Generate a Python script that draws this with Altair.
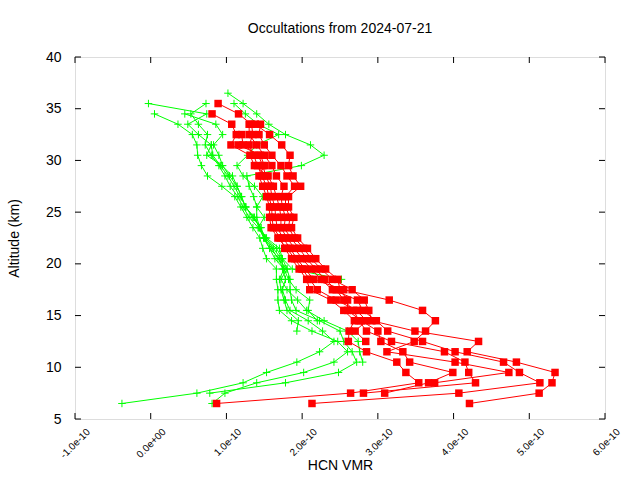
import altair as alt
import pandas as pd

TITLE = "Occultations from 2024-07-21"
X_TITLE = "HCN VMR"
Y_TITLE = "Altitude (km)"

ALTITUDES = [6.5, 7.5, 8.5, 9.5, 10.5, 11.5, 12.5, 13.5, 14.5, 15.5, 16.5, 17.5,
             18.5, 19.5, 20.5, 21.5, 22.5, 23.5, 24.5, 25.5, 26.5, 27.5, 28.5,
             29.5, 30.5, 31.5, 32.5, 33.5, 34.5, 35.5, 36.5]

X_TICKS = [-1e-10, 0.0, 1e-10, 2e-10, 3e-10, 4e-10, 5e-10, 6e-10]
X_TICK_LABELS = ["-1.0e-10", "0.0e+00", "1.0e-10", "2.0e-10", "3.0e-10",
                 "4.0e-10", "5.0e-10", "6.0e-10"]
Y_TICKS = [5, 10, 15, 20, 25, 30, 35, 40]

# HCN VMR values in units of 1e-10, from the lowest altitude upward
GREEN_1 = [-0.38, 0.61, 1.22, 1.53, 1.93, 2.23, 2.42, 2.27, 2.08, 1.84, 1.78, 1.74,
           1.78, 1.74, 1.70, 1.57, 1.49, 1.44, 1.37, 1.25, 1.20, 1.14, 1.08, 0.94,
           0.74, 0.80, 0.63, 0.49, 0.74, -0.03]
GREEN_2 = [0.81, 0.98, 1.40, 2.02, 2.42, 2.60, 2.47, 2.13, 1.86, 1.70, 1.68, 1.68,
           1.66, 1.66, 1.53, 1.48, 1.44, 1.35, 1.27, 1.19, 1.11, 0.94, 0.75, 0.67,
           0.62, 0.61, 0.55, 0.36, 0.05]
GREEN_3 = [0.78, 1.78, 2.48, 2.72, 2.66, 2.55, 2.50, 2.23, 1.92, 1.86, 1.84, 1.84,
           1.80, 1.74, 1.70, 1.53, 1.44, 1.40, 1.40, 1.36, 1.30, 1.27, 1.99, 2.29,
           2.11, 1.78, 1.56, 1.40, 1.22, 1.02]
GREEN_4 = [2.80, 2.76, 2.74, 2.60, 2.29, 2.06, 1.94, 1.80, 1.72, 1.80, 1.68, 1.60,
           1.50, 1.42, 1.30, 1.22, 1.15, 1.05, 0.98, 0.90, 0.80, 0.72, 0.75, 0.63,
           0.53, 0.73]
GREEN_5 = [1.93, 1.95, 1.80, 1.76, 1.72, 1.70, 1.76, 1.72, 1.62, 1.52, 1.42, 1.50,
           1.40, 1.48, 1.37, 1.22, 1.14, 1.28, 1.40, 1.69, 1.42, 1.25, 1.10]
GREEN_6 = [2.52, 1.87, 1.74, 1.66, 1.51, 1.44, 1.36, 1.25, 1.20, 1.14, 1.04, 0.95,
           0.90, 0.83, 0.95, 0.86, 0.45]
GREEN_7 = [2.20, 2.08, 2.10, 1.92, 1.82, 1.76, 1.64, 1.57, 1.50, 1.46, 1.34, 1.26,
           1.18, 1.10, 1.02, 0.92, 0.82, 0.80]

RED_1 = [0.87, 2.64, 3.54, 3.37, 3.25, 2.85, 2.61, 2.62, 2.69, 2.55, 2.38, 2.10,
         2.06, 1.96, 1.86, 1.77, 1.71, 1.62, 1.60, 1.60, 1.56, 1.53, 1.47, 1.41,
         1.36, 1.30, 1.35, 1.33, 1.16, 0.89]
RED_2 = [2.13, 4.07, 5.14, 4.87, 4.66, 4.02, 3.59, 3.13, 2.98, 2.80, 2.73, 2.40,
         2.25, 2.12, 2.00, 1.90, 1.80, 1.72, 1.72, 1.70, 1.66, 1.62, 1.55, 1.37,
         1.31, 1.06, 1.13, 1.07, 0.81]
RED_3 = [4.21, 5.13, 5.30, 5.34, 4.83, 4.18, 4.33, 3.49, 2.92, 2.88, 2.82, 2.66,
         2.40, 2.25, 2.12, 2.02, 1.90, 1.82, 1.84, 1.78, 1.78, 1.90, 1.80, 1.72,
         1.60, 1.50, 1.43, 1.45]
RED_4 = [2.81, 4.29, 4.20, 4.15, 3.88, 3.18, 2.85, 2.75, 2.68, 2.55, 2.45, 2.30,
         2.18, 2.06, 1.96, 1.85, 1.76, 1.78, 1.74, 1.72, 1.76, 1.66, 1.60, 1.50,
         1.40, 1.30, 1.30]
RED_5 = [3.09, 3.67, 3.99, 3.42, 3.33, 3.04, 3.00, 2.78, 2.60, 2.60, 2.50, 2.47,
         2.31, 2.18, 2.07, 1.94, 1.86, 1.89, 1.82, 1.82, 1.98, 1.88, 1.82, 1.84,
         1.73, 1.57, 1.38]
RED_6 = [3.75, 4.73, 4.02, 3.12, 3.48, 3.63, 3.76, 3.59, 3.15, 2.55, 2.15, 2.04,
         1.93, 1.84, 1.75, 1.67, 1.65, 1.64, 1.60, 1.58, 1.52, 1.48, 1.42, 1.22,
         1.20]
RED_7 = [2.84, 2.70, 2.85, 2.72, 2.45, 2.20, 2.10, 2.00, 1.90, 1.80, 1.68, 1.59,
         1.57, 1.57, 1.53, 1.48, 1.43, 1.50, 1.45, 1.16]

# (name, group, lowest altitude, values)
PROFILES = [
    ("g1", "green", 6.5, GREEN_1), ("g2", "green", 6.5, GREEN_2),
    ("g3", "green", 7.5, GREEN_3), ("g4", "green", 10.5, GREEN_4),
    ("g5", "green", 13.5, GREEN_5), ("g6", "green", 18.5, GREEN_6),
    ("g7", "green", 14.5, GREEN_7),
    ("r1", "red", 6.5, RED_1), ("r2", "red", 6.5, RED_2),
    ("r3", "red", 6.5, RED_3), ("r4", "red", 7.5, RED_4),
    ("r5", "red", 7.5, RED_5), ("r6", "red", 8.5, RED_6),
    ("r7", "red", 12.5, RED_7),
]

rows = []
for name, grp, start, vals in PROFILES:
    i0 = ALTITUDES.index(start)
    for k, v in enumerate(vals):
        rows.append({"profile": name, "group": grp,
                     "alt": ALTITUDES[i0 + k], "vmr": v * 1e-10})
df = pd.DataFrame(rows)
green = df[df.group == "green"]
red = df[df.group == "red"]

W, H = 530, 362
FONT = "Liberation Sans"
xdom = [X_TICKS[0], X_TICKS[-1]]
ydom = [Y_TICKS[0], Y_TICKS[-1]]

label_arr = "[" + ",".join("'" + s + "'" for s in X_TICK_LABELS) + "]"
xaxis = alt.Axis(values=X_TICKS, labelExpr=label_arr + "[round(datum.value*1e10)+1]",
                 labelAngle=-45, labelAlign="right", labelBaseline="middle",
                 labelFontSize=10, labelPadding=11, labelOffset=13, tickSize=0,
                 domain=False, grid=False, title=X_TITLE, titleFontSize=14,
                 titleFontWeight="normal", titleY=39, labelFont=FONT, titleFont=FONT,
                 labelColor="black", titleColor="black", labelOverlap=False)
yaxis = alt.Axis(values=Y_TICKS, labelFontSize=14, labelPadding=14, tickSize=0,
                 domain=False, grid=False, title=Y_TITLE, titleFontSize=14,
                 titleFontWeight="normal", titlePadding=24, labelFont=FONT,
                 titleFont=FONT, labelColor="black", titleColor="black")

X = alt.X("vmr:Q", scale=alt.Scale(domain=xdom, nice=False, zero=False), axis=xaxis)
Y = alt.Y("alt:Q", scale=alt.Scale(domain=ydom, nice=False, zero=False), axis=yaxis)

cross = "M-1,0L1,0M0,-1L0,1"

g_line = alt.Chart(green).mark_line(color="#00ff00", strokeWidth=1).encode(
    x=X, y=Y, detail="profile:N", order="alt:Q")
g_pts = alt.Chart(green).mark_point(shape=cross, size=56, color="#00ff00",
                                    strokeWidth=1, filled=False, opacity=1).encode(x=X, y=Y)
r_line = alt.Chart(red).mark_line(color="#ff0000", strokeWidth=1).encode(
    x=X, y=Y, detail="profile:N", order="alt:Q")
r_pts = alt.Chart(red).mark_square(size=56, color="#ff0000", opacity=1).encode(x=X, y=Y)

xt = pd.DataFrame({"vmr": X_TICKS})
yt = pd.DataFrame({"alt": Y_TICKS})
tick_b = alt.Chart(xt).mark_rule(color="black").encode(x=X, y=alt.value(H), y2=alt.value(H - 6))
tick_t = alt.Chart(xt).mark_rule(color="black").encode(x=X, y=alt.value(0), y2=alt.value(6))
tick_l = alt.Chart(yt).mark_rule(color="black").encode(y=Y, x=alt.value(0), x2=alt.value(6))
tick_r = alt.Chart(yt).mark_rule(color="black").encode(y=Y, x=alt.value(W), x2=alt.value(W - 6))

chart = alt.layer(g_line, g_pts, r_line, r_pts, tick_b, tick_t, tick_l, tick_r).properties(
    width=W, height=H,
    title=alt.TitleParams(TITLE, fontSize=14, font=FONT, fontWeight="normal",
                          offset=14, color="black"),
    autosize=alt.AutoSizeParams(type="none"),
    padding={"left": 75, "top": 57, "right": 35, "bottom": 61},
).configure_view(stroke="black", strokeWidth=1).configure(background="white")

chart.save("out.html", embed_options={"renderer": "svg", "actions": False})
